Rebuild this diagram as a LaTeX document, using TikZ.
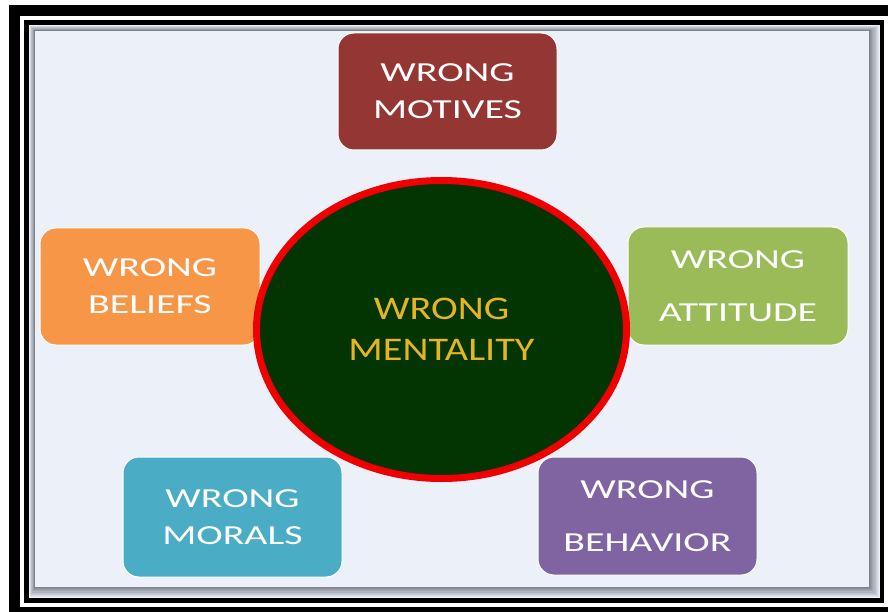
\documentclass[tikz,border=0pt]{standalone}
\usepackage{fontspec}
\usetikzlibrary{shapes.geometric}
\newfontfamily\boxfont[FakeStretch=1.45]{Carlito}
\newfontfamily\ellfont[FakeStretch=1.22]{Carlito}
\definecolor{bg}{HTML}{ECF0F8}
\definecolor{shade}{HTML}{7E828C}
\definecolor{motives}{HTML}{943634}
\definecolor{beliefs}{HTML}{F79646}
\definecolor{attitude}{HTML}{9BBB59}
\definecolor{morals}{HTML}{4BACC6}
\definecolor{behavior}{HTML}{8064A2}
\definecolor{mentfill}{HTML}{023502}
\definecolor{mentring}{HTML}{F00000}
\definecolor{menttext}{HTML}{E6B422}
\begin{document}
\begin{tikzpicture}[x=1pt,y=-1pt,
  card/.style={rounded corners=16pt, draw=white, line width=1pt,
    minimum width=219pt, minimum height=117pt, text=white, align=center,
    font=\boxfont\fontsize{27.5}{37}\selectfont, inner sep=0pt},
  hub/.style={ellipse, fill=mentfill, draw=mentring, line width=7pt,
    minimum width=370pt, minimum height=298pt, inner sep=0pt,
    text=menttext, align=center, font=\ellfont\fontsize{33}{41}\selectfont}
]
\useasboundingbox (0,0) rectangle (888,612);
% frame
\fill[black] (9,5) rectangle (888,612);
\fill[white] (20,16) rectangle (888,607);
\fill[black] (24,20) rectangle (884,603);
\foreach \i in {0,...,9}{
  \pgfmathsetmacro{\mix}{100-\i*11}
  \fill[bg!\mix!shade] (29+\i*0.6,25+\i*0.6) rectangle (880-\i*1.1,598-\i*1.1);
}
\fill[bg] (35,31) rectangle (869,587);
% cards
\node[card, fill=motives] (motives) at (447.5,91.5) {WRONG\\MOTIVES};
\node[card, fill=beliefs, minimum width=220pt] (beliefs) at (150,286.5) {WRONG\\BELIEFS};
\node[card, fill=attitude, minimum width=220pt, minimum height=118pt] (attitude) at (738,286) {WRONG\\[16pt]ATTITUDE};
\node[card, fill=morals, minimum height=120pt] (morals) at (232.5,517) {WRONG\\MORALS};
\node[card, fill=behavior, minimum height=118pt] (behavior) at (647.5,516) {WRONG\\[16pt]BEHAVIOR};
% hub
\node[hub] (mentality) at (441.5,329.5) {WRONG\\MENTALITY};
\end{tikzpicture}
\end{document}
